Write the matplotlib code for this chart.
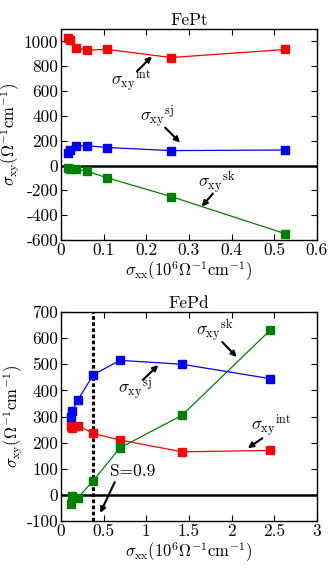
import matplotlib
matplotlib.use("Agg")
import matplotlib.pyplot as plt
import numpy as np

plt.rcParams['font.family'] = ['cmr10', 'DejaVu Serif']
plt.rcParams['mathtext.fontset'] = 'cm'
plt.rcParams['axes.unicode_minus'] = False
plt.rcParams['axes.formatter.use_mathtext'] = False

# FePt data
fept_x = [0.017, 0.021, 0.035, 0.060, 0.109, 0.258, 0.526]
fept_int = [1030, 1010, 950, 930, 935, 870, 935]
fept_sj = [100, 125, 155, 160, 145, 120, 125]
fept_sk = [-20, -25, -30, -45, -100, -250, -550]

# FePd data
fepd_x = [0.12, 0.13, 0.20, 0.38, 0.69, 1.42, 2.45]
fepd_int = [265, 255, 265, 235, 210, 165, 170]
fepd_sj = [300, 320, 365, 460, 515, 500, 445]
fepd_sk = [-35, -5, -10, 55, 180, 305, 630]
fepd_S09 = 0.37

fig = plt.figure(figsize=(3.32, 5.68), dpi=100)
ax1 = fig.add_axes([0.1837, 0.5775, 0.771, 0.3715])
ax2 = fig.add_axes([0.1837, 0.0827, 0.771, 0.368])

ms = 5.8
def series(ax, x, y, c):
    ax.plot(x, y, '-', color=c, lw=0.9, marker='s', ms=ms, mec=c, mfc=c)

for ax in (ax1, ax2):
    ax.axhline(0, color='black', lw=1.8, zorder=1)
    ax.tick_params(direction='in', top=True, right=True, length=4, width=0.8,
                   labelsize=12.5, pad=2)
    for s in ax.spines.values():
        s.set_linewidth(1.0)

series(ax1, fept_x, fept_int, '#ff0000')
series(ax1, fept_x, fept_sj, '#0000ff')
series(ax1, fept_x, fept_sk, '#008000')
ax1.set_xlim(0, 0.6)
ax1.set_ylim(-600, 1100)
ax1.set_xticks(np.arange(0, 0.61, 0.1))
ax1.set_xticklabels(['0', '0.1', '0.2', '0.3', '0.4', '0.5', '0.6'])
ax1.set_yticks(np.arange(-600, 1001, 200))
ax1.set_yticklabels(['-600', '-400', '-200', '0', '200', '400', '600', '800', '1000'])
ax1.set_title('FePt', fontsize=12.5, pad=3)

arrow = dict(arrowstyle='-|>', color='black', lw=1.5, mutation_scale=8, shrinkA=0, shrinkB=0)
fs = 12.5
ax1.annotate('', xy=(0.213, 879), xytext=(0.178, 758), arrowprops=arrow)
ax1.text(0.165, 680, r'$\sigma_{\rm xy}{}^{\rm int}$', fontsize=fs, ha='center', va='center')
ax1.annotate('', xy=(0.279, 185), xytext=(0.244, 306), arrowprops=arrow)
ax1.text(0.225, 385, r'$\sigma_{\rm xy}{}^{\rm sj}$', fontsize=fs, ha='center', va='center')
ax1.annotate('', xy=(0.330, -331), xytext=(0.356, -226), arrowprops=arrow)
ax1.text(0.365, -135, r'$\sigma_{\rm xy}{}^{\rm sk}$', fontsize=fs, ha='center', va='center')

series(ax2, fepd_x, fepd_int, '#ff0000')
series(ax2, fepd_x, fepd_sk, '#008000')
series(ax2, fepd_x, fepd_sj, '#0000ff')
ax2.axvline(fepd_S09, color='black', lw=2.2, ls=(0, (1.2, 0.8)), zorder=1)
ax2.set_xlim(0, 3)
ax2.set_ylim(-100, 700)
ax2.set_xticks(np.arange(0, 3.01, 0.5))
ax2.set_xticklabels(['0', '0.5', '1', '1.5', '2', '2.5', '3'])
ax2.set_yticks(np.arange(-100, 701, 100))
ax2.set_yticklabels(['-100', '0', '100', '200', '300', '400', '500', '600', '700'])
ax2.set_title('FePd', fontsize=12.5, pad=3)

ax2.annotate('', xy=(2.06, 528), xytext=(1.89, 585), arrowprops=arrow)
ax2.text(1.80, 630, r'$\sigma_{\rm xy}{}^{\rm sk}$', fontsize=fs, ha='center', va='center')
ax2.annotate('', xy=(1.14, 497), xytext=(0.96, 440), arrowprops=arrow)
ax2.text(0.87, 405, r'$\sigma_{\rm xy}{}^{\rm sj}$', fontsize=fs, ha='center', va='center')
ax2.annotate('', xy=(2.19, 179), xytext=(2.36, 217), arrowprops=arrow)
ax2.text(2.47, 262, r'$\sigma_{\rm xy}{}^{\rm int}$', fontsize=fs, ha='center', va='center')
ax2.annotate('', xy=(0.46, -69), xytext=(0.63, 49), arrowprops=arrow)
ax2.text(0.84, 92, 'S=0.9', fontsize=12.5, ha='center', va='center')

ylab = r'$\sigma_{\rm xy}(\Omega^{-1}{\rm cm}^{-1})$'
xlab = r'$\sigma_{\rm xx}(10^6\Omega^{-1}{\rm cm}^{-1})$'
for ax in (ax1, ax2):
    ax.set_ylabel(ylab, fontsize=12, labelpad=1)
    ax.set_xlabel(xlab, fontsize=12, labelpad=1)

fig.savefig('out.png', dpi=100)
